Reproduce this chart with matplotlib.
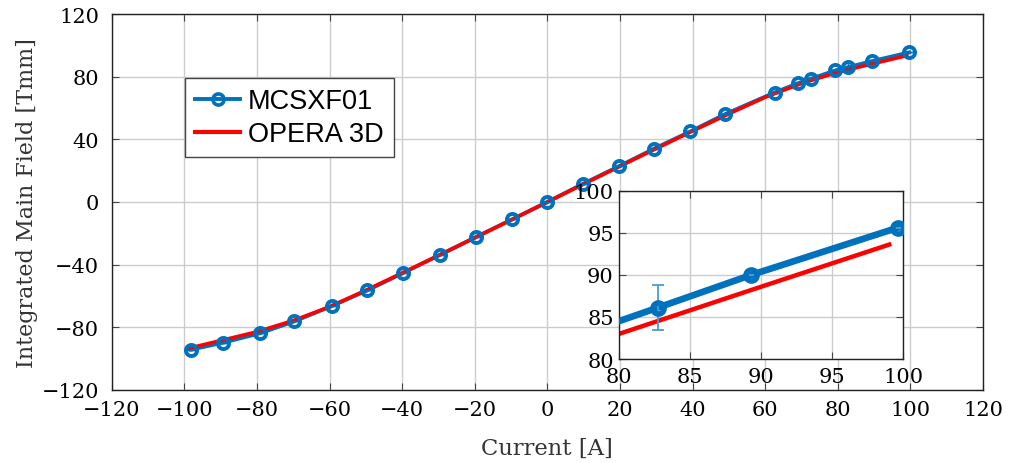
import numpy as np
import matplotlib
matplotlib.use("Agg")
import matplotlib.pyplot as plt

# measured data (MCSXF01)
current = [-98.2, -89.3, -79.3, -69.7, -59.4, -49.6, -39.8, -29.5, -19.7, -9.7, 0.0,
           9.7, 19.6, 29.4, 39.4, 49.0, 62.6, 69.1, 72.6, 79.3, 82.7, 89.3, 99.6]
field = [-94.4, -89.9, -84.0, -76.3, -66.5, -56.5, -45.4, -33.7, -22.4, -11.1, 0.0,
         11.5, 22.7, 34.1, 45.1, 56.2, 70.0, 76.0, 78.8, 84.1, 86.1, 90.0, 95.6]
field_err = [0, 0, 0, 0, 0, 0, 0, 0, 0, 0, 0,
             0, 0, 0, 0, 0, 0, 0, 0, 0, 2.65, 0, 0]

# simulation (OPERA 3D)
sim_current = [-99, -90, -80, -70, -60, -50, -40, -30, -20, -10, 0,
               10, 20, 30, 40, 50, 60, 70, 80, 90, 99]
sim_field = [-93.6, -88.6, -83.0, -75.8, -67.0, -56.4, -45.4, -34.2, -22.9, -11.5, 0.0,
             11.5, 22.9, 34.2, 45.4, 56.4, 67.0, 75.8, 83.0, 88.6, 93.6]

BLUE = "#0072BD"
RED = "#FF0000"
plt.rcParams["font.family"] = "DejaVu Serif"

fig = plt.figure(figsize=(10.14, 4.64), dpi=100)
ax = fig.add_axes([0.1102, 0.158, 0.8593, 0.809])


def style(a, ticks_x, ticks_y, padx, pady):
    a.set_xticks(ticks_x)
    a.set_yticks(ticks_y)
    a.grid(True, color="#cccccc", linewidth=1.0)
    a.set_axisbelow(True)
    a.tick_params(direction="in", top=True, right=True, length=5, width=0.8,
                  labelsize=15, color="#444444")
    a.tick_params(axis="x", pad=padx)
    a.tick_params(axis="y", pad=pady)
    for s in a.spines.values():
        s.set_linewidth(1.0)
        s.set_color("#222222")


# main plot
ax.plot(current, field, color=BLUE, lw=2.8, zorder=3)
ax.plot(sim_current, sim_field, color=RED, lw=2.6, zorder=4)
ax.errorbar(current, field, yerr=field_err, fmt="none", ecolor=BLUE, elinewidth=1,
            capsize=3, zorder=4)
ax.plot(current, field, ls="none", marker="o", ms=8, mew=2.8, mfc="none",
        mec=BLUE, zorder=5)
ax.set_xlim(-120, 120)
ax.set_ylim(-120, 120)
style(ax, np.arange(-120, 121, 20), np.arange(-120, 121, 40), 7.5, 9)
ax.set_xlabel("Current [A]", fontsize=16.3, color="#333333", labelpad=13)
ax.set_ylabel("Integrated Main Field [Tmm]", fontsize=16, color="#333333", labelpad=3)

# legend proxies
h1, = ax.plot([], [], color=BLUE, lw=2.8, marker="o", ms=8, mew=2.6, mfc="none")
h2, = ax.plot([], [], color=RED, lw=3)
leg = ax.legend([h1, h2], ["MCSXF01", "OPERA 3D"], loc="upper left",
                bbox_to_anchor=(0.084, 0.83), prop={"family": "Liberation Sans", "size": 19.5},
                frameon=True, fancybox=False, edgecolor="#444444", framealpha=1,
                handlelength=1.65, handletextpad=0.3, borderpad=0.38, labelspacing=0.25,
                borderaxespad=0)
leg.get_frame().set_linewidth(1.0)

# inset zoom
axin = fig.add_axes([0.6108, 0.2241, 0.2801, 0.3627])
axin.set_facecolor("white")
axin.plot(current, field, color=BLUE, lw=4.8, zorder=3)
axin.plot(sim_current, sim_field, color=RED, lw=3.2, zorder=2)
axin.errorbar(current, field, yerr=field_err, fmt="none", ecolor="#4a9bd6",
              elinewidth=1.3, capsize=4, capthick=1.3, zorder=4)
axin.plot(current, field, ls="none", marker="o", ms=8, mew=4, mfc="none",
          mec=BLUE, zorder=5)
axin.set_xlim(80, 100)
axin.set_ylim(80, 100)
style(axin, np.arange(80, 101, 5), np.arange(80, 101, 5), 5.5, 4)
axin.set_zorder(6)

fig.savefig("out.png", dpi=100)
